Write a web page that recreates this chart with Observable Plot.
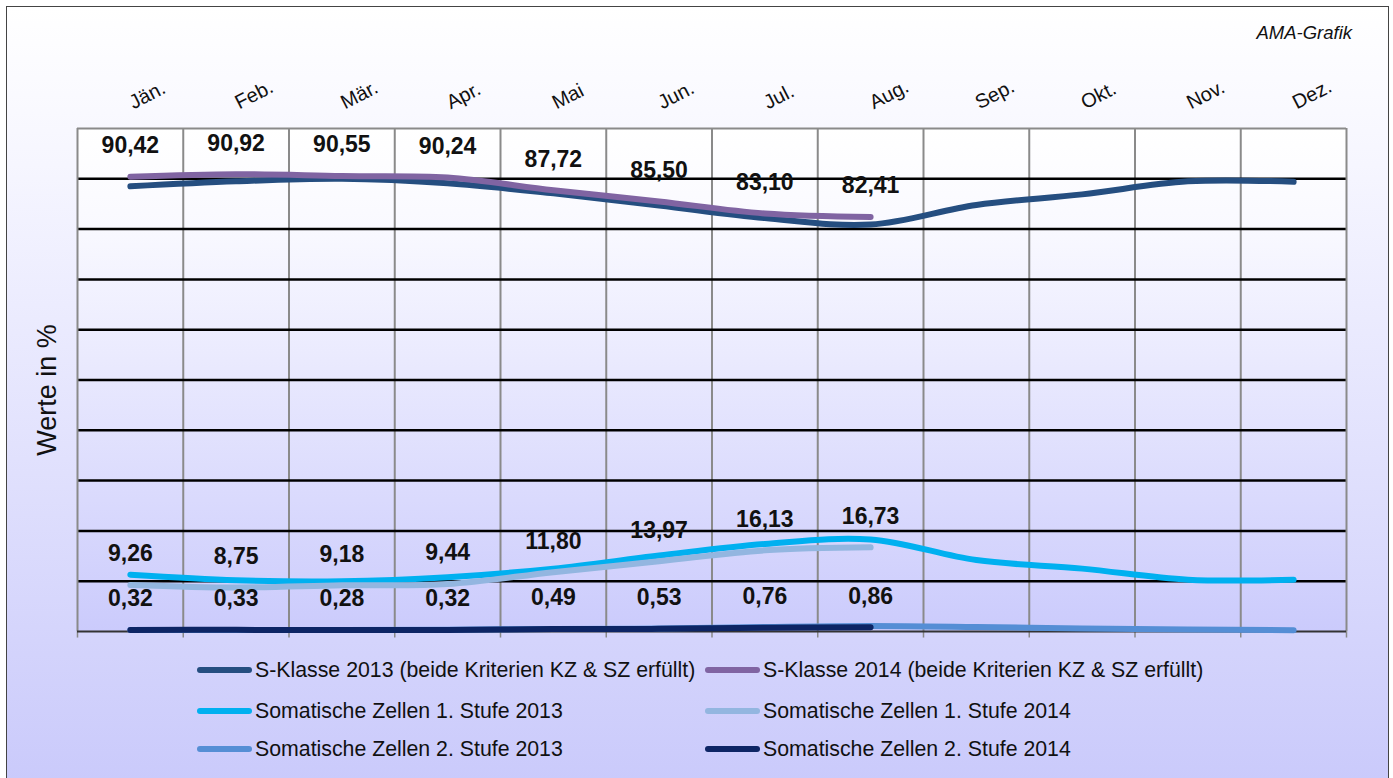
<!DOCTYPE html>
<html>
<head>
<meta charset="utf-8">
<script src="https://cdn.jsdelivr.net/npm/d3@7"></script>
<script src="https://cdn.jsdelivr.net/npm/@observablehq/plot@0.6"></script>
<style>
  html, body { margin: 0; padding: 0; background: #fff; }
  body { width: 1393px; height: 778px; position: relative; overflow: hidden; font-family: "Liberation Sans", Arial, sans-serif; }
  #frame { position: absolute; left: 6px; top: 6px; width: 1383px; height: 790px; border: 1.5px solid #444;
           background: linear-gradient(#ffffff 0%, #f6f6ff 20%, #c9c9fb 100%); box-sizing: border-box; }
  #plotbg { position: absolute; left: 77px; top: 128px; width: 1269px; height: 503px;
            background: linear-gradient(#ffffff 0%, #f9f9ff 20%, #cbcbfc 100%); }
  #chart { position: absolute; left: 0; top: 0; }
  #credit { position: absolute; right: 41px; top: 22px; font-style: italic; font-size: 18.5px; color: #111; }
  #ylabel { position: absolute; left: 47px; top: 390px; transform: translate(-50%, -50%) rotate(-90deg);
            font-size: 27px; color: #111; white-space: nowrap; }
  .leg { position: absolute; display: flex; align-items: center; font-size: 21.3px; color: #111; white-space: nowrap; }
  .sw { display: inline-block; width: 55px; height: 6px; border-radius: 3px; margin-right: 3px; }
</style>
</head>
<body>
<div id="frame"></div>
<div id="plotbg"></div>
<div id="chart"></div>
<div id="credit">AMA-Grafik</div>
<div id="ylabel">Werte in %</div>
<div id="legend"></div>
<script>
const months = ["Jän.","Feb.","Mär.","Apr.","Mai","Jun.","Jul.","Aug.","Sep.","Okt.","Nov.","Dez."];
const sKlasse2013 = [88.5, 89.5, 90.0, 89.1, 87.1, 84.7, 82.2, 80.9, 84.8, 86.9, 89.5, 89.4];
const sKlasse2014 = [90.42, 90.92, 90.55, 90.24, 87.72, 85.50, 83.10, 82.41];
const sz1_2013 = [11.3, 10.2, 10.0, 10.8, 12.5, 15.1, 17.4, 18.3, 14.2, 12.5, 10.3, 10.3];
const sz1_2014 = [9.26, 8.75, 9.18, 9.44, 11.80, 13.97, 16.13, 16.73];
const sz2_2013 = [0.30, 0.32, 0.30, 0.35, 0.50, 0.60, 0.90, 1.10, 0.90, 0.60, 0.40, 0.25];
const sz2_2014 = [0.32, 0.33, 0.28, 0.32, 0.49, 0.53, 0.76, 0.86];
const yTicks = [10, 20, 30, 40, 50, 60, 70, 80, 90];

const seriesNames = [
  "S-Klasse 2013 (beide Kriterien KZ & SZ erfüllt)",
  "S-Klasse 2014 (beide Kriterien KZ & SZ erfüllt)",
  "Somatische Zellen 1. Stufe 2013",
  "Somatische Zellen 1. Stufe 2014",
  "Somatische Zellen 2. Stufe 2013",
  "Somatische Zellen 2. Stufe 2014"
];
const seriesColors = ["#254e80", "#8064a2", "#00b0f0", "#93b6e0", "#558ed5", "#0d2565"];
const seriesValues = [sKlasse2013, sKlasse2014, sz1_2013, sz1_2014, sz2_2013, sz2_2014];
const labeled = [false, true, false, true, false, true];

const toPts = (vals) => vals.map((v, i) => ({m: i + 1, v}));
const fmt = (v) => v.toFixed(2).replace(".", ",");
const font = "Liberation Sans, Arial, sans-serif";

const lineMarks = seriesValues.map((vals, k) =>
  Plot.line(toPts(vals), {x: "m", y: "v", stroke: seriesColors[k], strokeWidth: 6,
    curve: "catmull-rom", strokeLinecap: "round", strokeLinejoin: "round"}));

const labelMarks = seriesValues.map((vals, k) => labeled[k] ?
  Plot.text(toPts(vals), {x: "m", y: "v", text: d => fmt(d.v), dy: -31, fontSize: 23,
    fontWeight: "bold", fill: "#111", fontFamily: font}) : null).filter(Boolean);

const bounds = d3.range(0.5, 13, 1);

const chart = Plot.plot({
  width: 1393, height: 640,
  marginLeft: 77, marginRight: 47, marginTop: 128, marginBottom: 9,
  style: {background: "transparent", overflow: "visible", fontFamily: font},
  x: {domain: [0.5, 12.5], axis: null},
  y: {domain: [0, 100], axis: null},
  marks: [
    Plot.ruleX(bounds.slice(1, -1), {stroke: "#8a8a8a", strokeWidth: 2}),
    Plot.ruleY(yTicks, {stroke: "#000", strokeWidth: 2.5}),
    Plot.ruleY([100], {stroke: "#8a8a8a", strokeWidth: 2}),
    Plot.ruleX([0.5, 12.5], {stroke: "#8a8a8a", strokeWidth: 2}),
    Plot.ruleX(bounds, {y1: 0, y2: -1.3, stroke: "#8a8a8a", strokeWidth: 1.5}),
    Plot.ruleY([0], {stroke: "#333", strokeWidth: 2}),
    ...lineMarks,
    ...labelMarks,
    Plot.text(months.map((m, i) => ({m: i + 1, t: m})), {x: "m", text: "t", frameAnchor: "top",
      dx: 3, dy: -19, rotate: -27, textAnchor: "start", lineAnchor: "bottom", fontSize: 20,
      fill: "#111", fontFamily: font})
  ]
});
document.getElementById("chart").appendChild(chart);

// legend
const legendPos = [
  [197, 670], [705, 670],
  [197, 711], [705, 711],
  [197, 749], [705, 749]
];
const legend = document.getElementById("legend");
seriesNames.forEach((name, k) => {
  const div = document.createElement("div");
  div.className = "leg";
  div.style.left = legendPos[k][0] + "px";
  div.style.top = (legendPos[k][1] - 13) + "px";
  div.style.height = "26px";
  const sw = document.createElement("span");
  sw.className = "sw";
  sw.style.background = seriesColors[k];
  div.appendChild(sw);
  const t = document.createElement("span");
  t.textContent = name;
  div.appendChild(t);
  legend.appendChild(div);
});
</script>
</body>
</html>
